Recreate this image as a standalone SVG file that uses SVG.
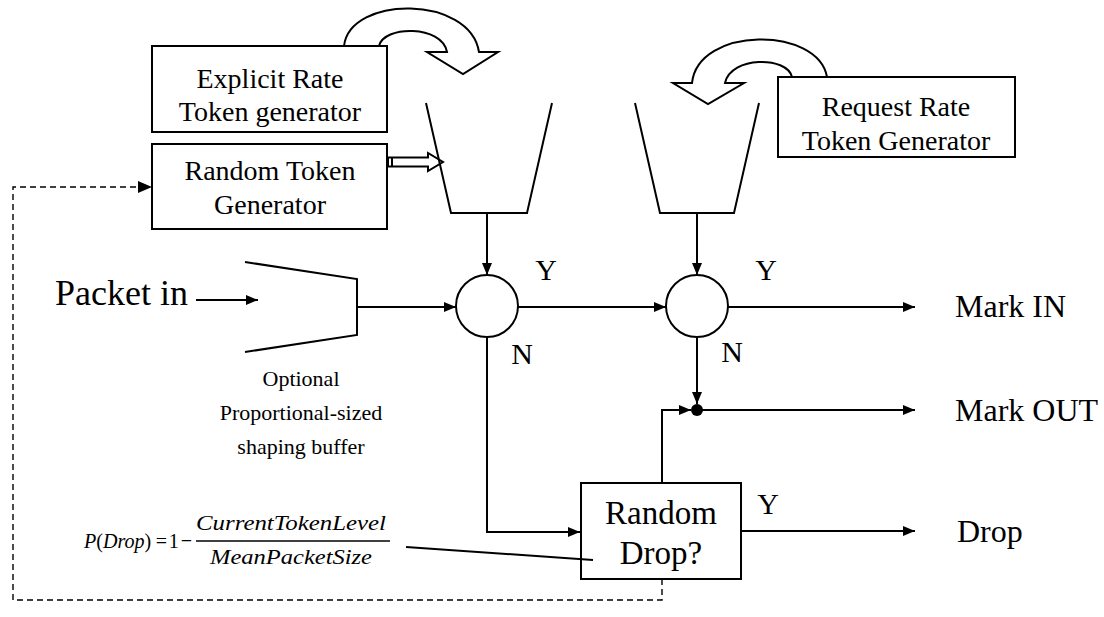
<svg xmlns="http://www.w3.org/2000/svg" width="1104" height="617" viewBox="0 0 1104 617">
  <style>
    .ln { stroke: #000; stroke-width: 2; fill: none; }
    .box { stroke: #000; stroke-width: 2; fill: #fff; }
    .dash { stroke: #000; stroke-width: 1.4; fill: none; stroke-dasharray: 6 4; }
    .t { font-family: "Liberation Serif", "Times New Roman", serif; fill: #000; text-anchor: middle; }
    .box-t { font-size: 28px; }
    .note-t { font-size: 22px; }
    .yn { font-size: 30px; }
    .in-t { font-family: "Liberation Serif", "Times New Roman", serif; fill: #000; font-size: 36px; text-anchor: end; }
    .out-t { font-family: "Liberation Serif", "Times New Roman", serif; fill: #000; font-size: 32px; }
    .math { font-family: "Liberation Serif", "Times New Roman", serif; font-size: 22px; fill: #000; }
  </style>
  <defs>
    <marker id="arrow" viewBox="0 0 12 10" refX="12" refY="5" markerWidth="12" markerHeight="10" markerUnits="userSpaceOnUse" orient="auto">
      <path d="M0,0 L12,5 L0,10 z" fill="#000"/>
    </marker>
  </defs>

  <!-- curved hollow arrows feeding the buckets -->
  <g id="refill-left">
    <path class="box" d="M344,46 C350,-5 470,-5 479,52 L498,52 L463,74 L427,52 L447,52 C442,25 384,25 379,46 Z"/>
  </g>
  <g id="refill-right">
    <path class="box" d="M827,77 C818,26 698,26 692,83 L673,83 L708,104 L744,83 L725,83 C731,56 787,56 792,77 Z"/>
  </g>

  <!-- generators -->
  <g id="explicit-rate">
    <rect class="box" x="152" y="46" width="235" height="86"/>
    <text class="t box-t" x="270" y="88">Explicit Rate</text>
    <text class="t box-t" x="270" y="121">Token generator</text>
  </g>
  <g id="random-token">
    <rect class="box" x="152" y="144" width="235" height="85"/>
    <text class="t box-t" x="270" y="180">Random Token</text>
    <text class="t box-t" x="270" y="214">Generator</text>
  </g>
  <g id="request-rate">
    <rect class="box" x="778" y="77" width="237" height="80"/>
    <text class="t box-t" x="896" y="116">Request Rate</text>
    <text class="t box-t" x="896" y="150">Token Generator</text>
  </g>

  <!-- hollow arrow from random token generator into left bucket -->
  <g id="random-feed">
    <path class="box" d="M388,157.5 L428,157.5 L428,153 L443,162 L428,171 L428,166.5 L388,166.5 Z" stroke-width="1.6"/>
    <line x1="392" y1="157.5" x2="392" y2="166.5" stroke="#000" stroke-width="2"/>
  </g>

  <!-- token buckets -->
  <g id="bucket-left">
    <path class="ln" d="M426,103 L451,213 L527,213 L552,103"/>
  </g>
  <g id="bucket-right">
    <path class="ln" d="M635,103 L660,213 L734,213 L759,103"/>
  </g>

  <!-- shaping buffer -->
  <g id="shaping-buffer">
    <path class="ln" d="M245,262 L357,279 L357,335 L245,352"/>
    <text class="in-t" x="188" y="305">Packet in</text>
    <text class="t note-t" x="301" y="386">Optional</text>
    <text class="t note-t" x="301" y="420">Proportional-sized</text>
    <text class="t note-t" x="301" y="454">shaping buffer</text>
  </g>

  <!-- decision circles -->
  <g id="check-explicit">
    <circle class="box" cx="487" cy="306" r="31"/>
    <text class="t yn" x="546" y="280">Y</text>
    <text class="t yn" x="522" y="364">N</text>
  </g>
  <g id="check-request">
    <circle class="box" cx="697" cy="306" r="31"/>
    <text class="t yn" x="766" y="280">Y</text>
    <text class="t yn" x="732" y="362">N</text>
  </g>

  <!-- merge point -->
  <g id="merge">
    <circle cx="697" cy="410" r="6" fill="#000"/>
  </g>

  <!-- random drop decision -->
  <g id="random-drop">
    <rect class="box" x="581" y="483" width="160" height="96"/>
    <text class="t" font-size="33" x="661" y="524">Random</text>
    <text class="t" font-size="33" x="661" y="564">Drop?</text>
    <text class="t yn" x="768" y="514">Y</text>
  </g>

  <!-- outputs -->
  <g id="outputs">
    <text class="out-t" x="955" y="317">Mark IN</text>
    <text class="out-t" x="955" y="421">Mark OUT</text>
    <text class="out-t" x="957" y="542">Drop</text>
  </g>

  <!-- drop probability formula -->
  <g id="formula">
    <text class="math" x="84" y="548" textLength="108" lengthAdjust="spacingAndGlyphs"><tspan font-style="italic">P</tspan>(<tspan font-style="italic">Drop</tspan>)<tspan dx="5">=</tspan><tspan dx="2">1</tspan><tspan dx="2">−</tspan></text>
    <text class="math" font-style="italic" x="291" y="530" text-anchor="middle" textLength="190" lengthAdjust="spacingAndGlyphs">CurrentTokenLevel</text>
    <line x1="196" y1="541" x2="390" y2="541" stroke="#000" stroke-width="1.3"/>
    <text class="math" font-style="italic" x="291" y="564" text-anchor="middle" textLength="162" lengthAdjust="spacingAndGlyphs">MeanPacketSize</text>
  </g>

  <!-- connectors -->
  <g id="connectors">
    <line class="ln" x1="196" y1="300" x2="258" y2="300" marker-end="url(#arrow)"/>
    <line class="ln" x1="357" y1="307" x2="456" y2="307" marker-end="url(#arrow)"/>
    <line class="ln" x1="487" y1="213" x2="487" y2="275" marker-end="url(#arrow)"/>
    <line class="ln" x1="697" y1="213" x2="697" y2="275" marker-end="url(#arrow)"/>
    <line class="ln" x1="518" y1="307" x2="666" y2="307" marker-end="url(#arrow)"/>
    <line class="ln" x1="728" y1="307" x2="915" y2="307" marker-end="url(#arrow)"/>
    <line class="ln" x1="697" y1="337" x2="697" y2="404" marker-end="url(#arrow)"/>
    <polyline class="ln" points="662,483 662,410 691,410" marker-end="url(#arrow)"/>
    <line class="ln" x1="697" y1="410" x2="915" y2="410" marker-end="url(#arrow)"/>
    <polyline class="ln" points="487,337 487,532 580,532" marker-end="url(#arrow)"/>
    <line class="ln" x1="741" y1="531" x2="915" y2="531" marker-end="url(#arrow)"/>
    <line class="ln" x1="406" y1="547" x2="593" y2="560"/>
    <polyline class="dash" points="662,579 662,600 13,600 13,187 140,187"/>
    <path d="M138,181 L152,187 L138,193 z" fill="#000"/>
  </g>
</svg>
